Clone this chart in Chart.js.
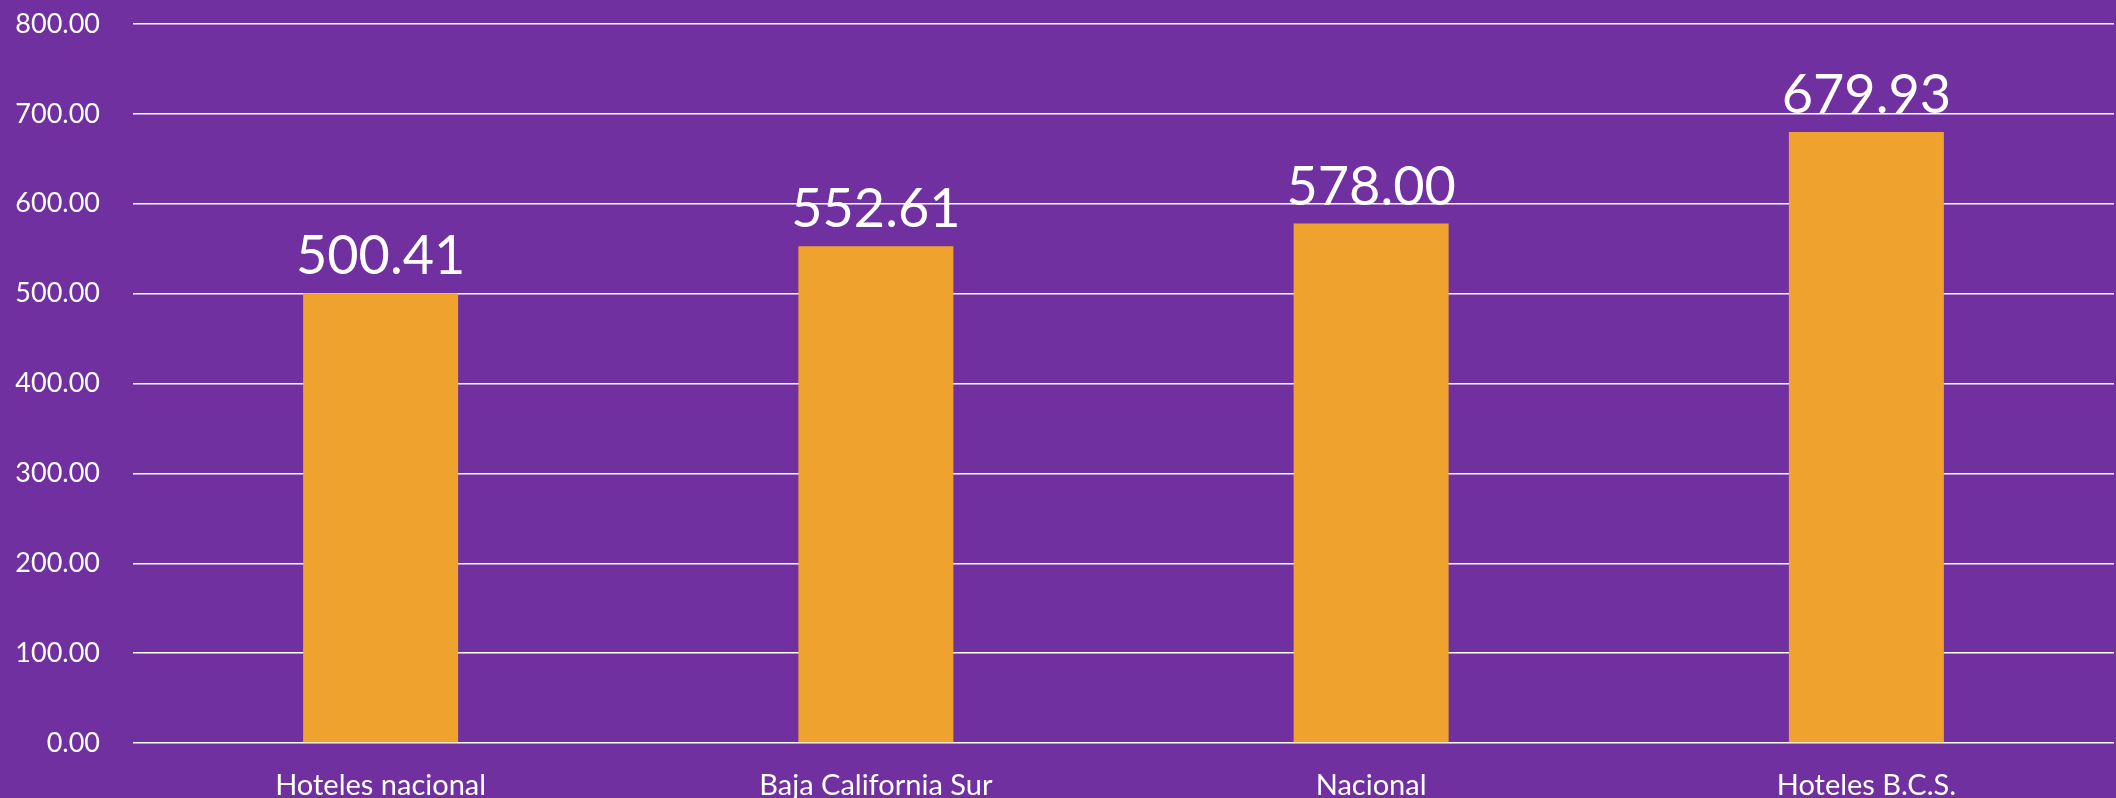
<!DOCTYPE html>
<html>
<head>
<meta charset="utf-8">
<script src="https://cdn.jsdelivr.net/npm/chart.js@4.4.0/dist/chart.umd.min.js"></script>
<style>
  html, body { margin: 0; padding: 0; background: #7030A0; }
  #wrap { width: 2116px; height: 798px; }
</style>
</head>
<body>
<div id="wrap"><canvas id="chartPrecio" width="2116" height="798"></canvas></div>
<script>
const categorias = ['Hoteles nacional', 'Baja California Sur', 'Nacional', 'Hoteles B.C.S.'];
const valores = [500.41, 552.61, 578.00, 679.93];
const ticksY = [0, 100, 200, 300, 400, 500, 600, 700, 800];

// etiquetas encima de cada barra
const etiquetasBarras = {
  id: 'etiquetasBarras',
  afterDatasetsDraw(chart) {
    const ctx = chart.ctx;
    const meta = chart.getDatasetMeta(0);
    ctx.save();
    ctx.fillStyle = '#FFFFFF';
    ctx.font = '54px Lato';
    ctx.textAlign = 'center';
    ctx.textBaseline = 'alphabetic';
    meta.data.forEach(function (bar, i) {
      ctx.fillText(valores[i].toFixed(2), bar.x, bar.y - 19);
    });
    ctx.restore();
  }
};

const data = {
  labels: categorias,
  datasets: [{
    data: valores,
    backgroundColor: '#F0A22E',
    categoryPercentage: 1,
    barPercentage: 0.313
  }]
};

const config = {
  type: 'bar',
  data: data,
  options: {
    responsive: false,
    animation: false,
    devicePixelRatio: 1,
    layout: { padding: { top: 24, right: 2, left: 0, bottom: 0 } },
    plugins: {
      legend: { display: false },
      tooltip: { enabled: false }
    },
    scales: {
      x: {
        grid: { display: false },
        border: { display: false },
        ticks: {
          color: '#FFFFFF',
          font: { family: 'Lato', size: 29 },
          padding: 17,
          maxRotation: 0
        },
        afterFit: function (scale) {
          scale.height = 55;
          scale.paddingLeft = 0;
          scale.paddingRight = 0;
        }
      },
      y: {
        min: 0,
        max: 800,
        afterBuildTicks: function (scale) {
          scale.ticks = ticksY.map(function (v) { return { value: v }; });
        },
        grid: { color: '#FFFFFF', lineWidth: 1.5, drawTicks: false },
        border: { display: false },
        ticks: {
          color: '#FFFFFF',
          font: { family: 'Lato', size: 27 },
          padding: 33,
          callback: function (v) { return Number(v).toFixed(2); }
        },
        afterFit: function (scale) {
          scale.width = 133;
          scale.paddingTop = 0;
          scale.paddingBottom = 0;
        }
      }
    }
  },
  plugins: [etiquetasBarras]
};

const chartPrecio = new Chart(document.getElementById('chartPrecio'), config);
</script>
</body>
</html>
